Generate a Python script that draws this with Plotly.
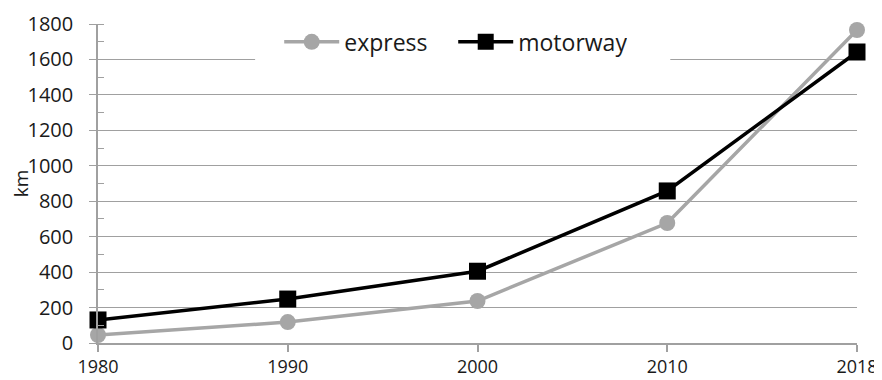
import plotly.graph_objects as go

years = ["1980", "1990", "2000", "2010", "2018"]
express = [45, 118, 237, 677, 1766]
motorway = [130, 248, 405, 858, 1642]

FONT = "Open Sans, sans-serif"

fig = go.Figure()
fig.add_trace(go.Scatter(
    x=years, y=express, name="express", mode="lines+markers",
    line=dict(color="#A6A6A6", width=3.5),
    marker=dict(symbol="circle", size=16, color="#A6A6A6"),
    cliponaxis=False,
))
fig.add_trace(go.Scatter(
    x=years, y=motorway, name="motorway", mode="lines+markers",
    line=dict(color="#000000", width=3.5),
    marker=dict(symbol="square", size=17, color="#000000"),
    cliponaxis=False,
))

# white band behind the legend that interrupts the top gridlines
fig.add_shape(type="rect", xref="paper", yref="paper",
              x0=0.207, x1=0.754, y0=0.85, y1=1.02,
              fillcolor="white", line=dict(width=0), layer="above")

fig.update_layout(
    width=874, height=372,
    margin=dict(l=90, r=25, t=16, b=37),
    paper_bgcolor="white", plot_bgcolor="white",
    font=dict(family=FONT, size=20, color="#1a1a1a"),
    showlegend=True,
    legend=dict(
        orientation="h", x=0.468, xanchor="center", y=0.944, yanchor="middle",
        bgcolor="rgba(255,255,255,0)", font=dict(size=23), itemwidth=55,
        entrywidth=104, entrywidthmode="pixels", tracegroupgap=0,
    ),
    xaxis=dict(
        type="category", range=[0, 4], automargin=False,
        showgrid=False, showline=True, linecolor="#A0A0A0", linewidth=1.5,
        ticks="outside", ticklen=7, tickcolor="#A0A0A0", tickwidth=1.5,
        tickfont=dict(size=18),
    ),
    yaxis=dict(
        range=[0, 1800], dtick=200, automargin=False,
        showgrid=True, gridcolor="#A0A0A0", gridwidth=1,
        showline=True, linecolor="#A0A0A0", linewidth=1.5,
        ticks="outside", ticklen=7, tickcolor="#A0A0A0",
        tickfont=dict(size=20), ticklabelstandoff=12,
        minor=dict(dtick=100, ticks="inside", ticklen=6, tickcolor="#A0A0A0", showgrid=False),
        title=dict(text="km", font=dict(size=19), standoff=0),
        zeroline=False,
    ),
)

fig.write_html("out.html")
